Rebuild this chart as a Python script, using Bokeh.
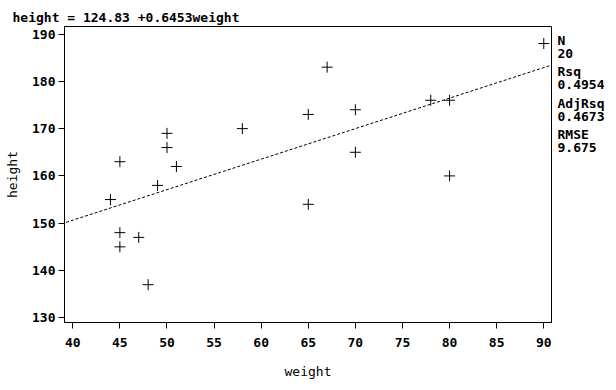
from bokeh.plotting import figure
from bokeh.layouts import row
from bokeh.models import Range1d, FixedTicker, Slope
from bokeh.core.properties import value
from bokeh.embed import file_html
from bokeh.resources import INLINE

weight = [44, 45, 45, 45, 47, 48, 49, 50, 50, 51, 58, 65, 65, 67, 70, 70, 78, 80, 80, 90]
height = [155, 163, 148, 145, 147, 137, 158, 169, 166, 162, 170, 173, 154, 183, 174, 165, 176, 176, 160, 188]
intercept = 124.83
slope = 0.6453
x_ticks = [40, 45, 50, 55, 60, 65, 70, 75, 80, 85, 90]
y_ticks = [130, 140, 150, 160, 170, 180, 190]
stat_names = ["N", "Rsq", "AdjRsq", "RMSE"]
stat_values = ["20", "0.4954", "0.4673", "9.675"]

FONT = "DejaVu Sans Mono"
H = 382
W_MAIN, W_SIDE = 552, 56
LEFT, TOP, RIGHT, BOTTOM = 64, 26, 1, 60

p = figure(width=W_MAIN, height=H, output_backend="svg", toolbar_location=None,
           x_range=Range1d(39.12, 90.82), y_range=Range1d(129.0, 191.6),
           min_border_left=LEFT, min_border_top=TOP, min_border_right=RIGHT,
           min_border_bottom=BOTTOM)
p.xgrid.visible = False
p.ygrid.visible = False
p.outline_line_color = "black"
p.outline_line_width = 1
p.background_fill_color = "white"
p.border_fill_color = "white"

p.title.text = "height = %.2f +%.4fweight" % (intercept, slope)
p.title.align = "left"
p.title.offset = -52
p.title.text_font = FONT
p.title.text_font_style = "bold"
p.title.text_font_size = "13px"
p.title.text_color = "black"
p.title.standoff = 4

for ax in (p.xaxis[0], p.yaxis[0]):
    ax.axis_line_color = "black"
    ax.major_tick_line_color = "black"
    ax.major_tick_out = 6
    ax.major_tick_in = 0
    ax.minor_tick_line_color = None
    ax.major_label_text_font = FONT
    ax.major_label_text_font_style = "bold"
    ax.major_label_text_font_size = "13px"
    ax.major_label_text_color = "black"
    ax.axis_label_text_font = FONT
    ax.axis_label_text_font_style = "normal"
    ax.axis_label_text_font_size = "13px"
    ax.axis_label_text_color = "black"

p.xaxis[0].ticker = FixedTicker(ticks=x_ticks)
p.yaxis[0].ticker = FixedTicker(ticks=y_ticks)
p.xaxis[0].major_label_standoff = 9
p.yaxis[0].major_label_standoff = 3
p.xaxis[0].axis_label = "weight"
p.yaxis[0].axis_label = "height"
p.xaxis[0].axis_label_standoff = 14
p.yaxis[0].axis_label_standoff = 9

p.add_layout(Slope(gradient=slope, y_intercept=intercept, line_color="black",
                   line_width=1, line_dash="3 2"))
p.scatter(weight, height, marker="cross", size=11, line_color="black", line_width=1)

# side panel with the fit statistics; its ranges are picture pixels of the frame band
q = figure(width=W_SIDE, height=H, output_backend="svg", toolbar_location=None,
           x_range=Range1d(W_MAIN, W_MAIN + W_SIDE), y_range=Range1d(H - BOTTOM, TOP),
           min_border_left=0, min_border_right=0, min_border_top=TOP, min_border_bottom=BOTTOM,
           outline_line_color=None, x_axis_type=None, y_axis_type=None)
q.grid.visible = False
q.border_fill_color = "white"
name_rows = [40, 71, 103, 134]
line_gap = 13
txt, ty = [], []
for n, v, yy in zip(stat_names, stat_values, name_rows):
    txt += [n, v]
    ty += [yy, yy + line_gap]
q.text(x=[W_MAIN + 5] * len(txt), y=ty, text=txt, text_font=value(FONT), text_font_style="bold",
       text_font_size="13px", text_baseline="middle", text_color="black")

layout = row(p, q, spacing=0)
open("out.html", "w").write(file_html(layout, INLINE))
